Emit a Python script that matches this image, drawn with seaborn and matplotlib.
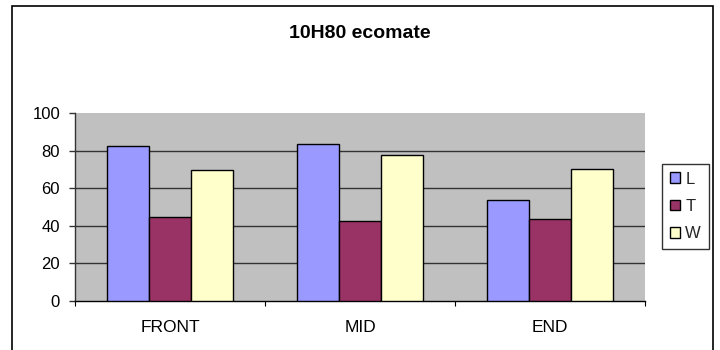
import matplotlib
matplotlib.use("Agg")
import matplotlib.pyplot as plt
from matplotlib.patches import Rectangle
import pandas as pd
import seaborn as sns

# Measurements per position
positions = ["FRONT", "MID", "END"]
series = ["L", "T", "W"]
L_vals = [82.8, 83.5, 54.0]
T_vals = [44.5, 42.5, 43.4]
W_vals = [69.7, 77.7, 70.4]
y_ticks = [0, 20, 40, 60, 80, 100]
title = "10H80 ecomate"

colors = {"L": "#9999FF", "T": "#993366", "W": "#FFFFCC"}

df = pd.DataFrame({
    "position": positions * 3,
    "series": ["L"] * 3 + ["T"] * 3 + ["W"] * 3,
    "value": L_vals + T_vals + W_vals,
})

sns.set_theme(style="white")
plt.rcParams["font.family"] = ["Liberation Sans", "DejaVu Sans"]

W, H = 720, 350
fig = plt.figure(figsize=(W / 100, H / 100), dpi=100)
fig.patch.set_facecolor("white")

left, right, top, bottom = 75, 645, 113.3, 300.7
ax = fig.add_axes([left / W, 1 - bottom / H, (right - left) / W, (bottom - top) / H])
ax.set_facecolor("#C0C0C0")

sns.barplot(data=df, x="position", y="value", hue="series", order=positions,
            hue_order=series, palette=colors, width=0.667, gap=0,
            edgecolor="black", linewidth=1, saturation=1, ax=ax, zorder=3)

ax.set_ylim(0, 100)
ax.set_xlim(-0.5, 2.5)
ax.set_yticks(y_ticks)
ax.set_yticklabels([str(v) for v in y_ticks], fontsize=12, color="black")
# horizontal gridlines inside the plot area (none on the top edge)
for v in y_ticks[1:-1]:
    ax.axhline(v, color="#333333", linewidth=1, zorder=1)
ax.set_xlabel("")
ax.set_ylabel("")

# category ticks sit between groups
ax.set_xticks([0, 1, 2])
ax.set_xticklabels(positions, fontsize=12.5, color="black")
ax.tick_params(axis="x", length=0, pad=13.9)
ax.set_xticks([-0.5, 0.5, 1.5, 2.5], minor=True)
ax.tick_params(axis="x", which="minor", length=3.6, width=0.8, color="black",
               direction="out", bottom=True)
ax.tick_params(axis="y", length=4.3, width=1, color="#333333", direction="out",
               left=True, pad=6.5)

for side in ["top", "right"]:
    ax.spines[side].set_visible(False)
ax.spines["left"].set_color("#333333")
ax.spines["bottom"].set_color("black")
for side in ["left", "bottom"]:
    ax.spines[side].set_linewidth(1)

handles, labels = ax.get_legend_handles_labels()
ax.get_legend().remove()
leg = fig.legend(handles, labels, loc="center left",
                 bbox_to_anchor=(662 / W, 1 - 206.5 / H), frameon=True,
                 fancybox=False, edgecolor="black", fontsize=12,
                 handlelength=0.6, handleheight=0.6, handletextpad=0.35,
                 labelspacing=0.75, borderpad=0.45, borderaxespad=0)
leg.get_frame().set_linewidth(1)

fig.text(359.5 / W, 1 - 33 / H, title, ha="center", va="center",
         fontsize=14, fontweight="bold", color="black")

# chart border
fig.patches.append(Rectangle((11.5 / W, -0.1), (713 - 11.5) / W, 1.1 - 5.5 / H,
                             transform=fig.transFigure, fill=False,
                             edgecolor="black", linewidth=1.2, clip_on=False))

fig.savefig("out.png", dpi=100, facecolor="white")
